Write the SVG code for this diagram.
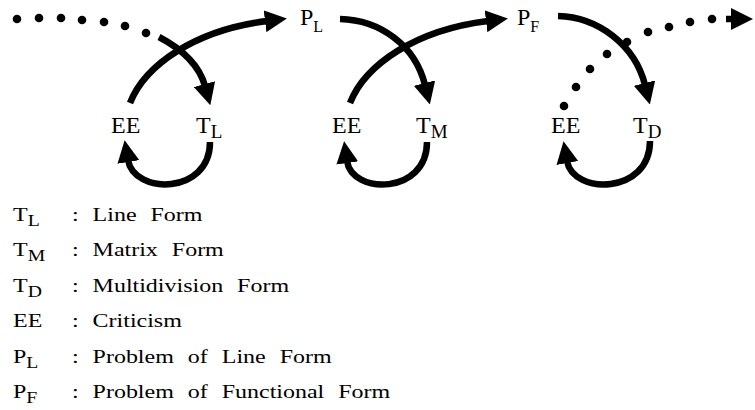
<svg xmlns="http://www.w3.org/2000/svg" width="755" height="410" viewBox="0 0 755 410">
<defs>
<style>
.t{font-family:"Liberation Serif","Times New Roman",serif;font-size:24px;fill:#000}
.s{font-size:19px}
.sp{font-size:16px}
.lg{font-family:"Liberation Serif","Times New Roman",serif;font-size:19.5px;fill:#000;word-spacing:6.5px}
.ls{font-size:16px}
.ln{fill:none;stroke:#000;stroke-width:6.5;stroke-linecap:butt}
.dot{fill:#000}
</style>
<marker id="ah" markerUnits="userSpaceOnUse" markerWidth="22" markerHeight="22" viewBox="0 0 22 22" refX="2" refY="11" orient="auto">
<path d="M0,0 L22,11 L0,22 z" fill="#000"/>
</marker>
</defs>
<rect width="755" height="410" fill="#fff"/>
<g id="connectors">
<g id="dots-in">
<circle class="dot" cx="17" cy="19" r="4.3"/>
<circle class="dot" cx="39" cy="18" r="4.3"/>
<circle class="dot" cx="61" cy="18" r="4.3"/>
<circle class="dot" cx="82" cy="20" r="4.3"/>
<circle class="dot" cx="104" cy="22" r="4.3"/>
<circle class="dot" cx="125" cy="26" r="4.3"/>
<circle class="dot" cx="146" cy="33" r="4.3"/>
</g>
<path class="ln" d="M159,37 Q197,57 205,86" marker-end="url(#ah)"/>
<path class="ln" d="M130,103 C145,65 195,30 267,21" marker-end="url(#ah)"/>
<path class="ln" d="M210,142 C210,195 134,195 128,160" marker-end="url(#ah)"/>
<path class="ln" d="M340,19 C380,20 415,45 425,85" marker-end="url(#ah)"/>
<path class="ln" d="M350,103 C365,65 415,30 488,21" marker-end="url(#ah)"/>
<path class="ln" d="M427,142 C427,195 352,195 347,161" marker-end="url(#ah)"/>
<path class="ln" d="M558,16 C598,17 635,45 645,85" marker-end="url(#ah)"/>
<path class="ln" d="M650,141 C650,195 573,195 567,161" marker-end="url(#ah)"/>
<g id="dots-out">
<circle class="dot" cx="564" cy="106" r="4.3"/>
<circle class="dot" cx="576" cy="87" r="4.3"/>
<circle class="dot" cx="590" cy="69" r="4.3"/>
<circle class="dot" cx="607" cy="54" r="4.3"/>
<circle class="dot" cx="627" cy="42" r="4.3"/>
<circle class="dot" cx="648" cy="32" r="4.3"/>
<circle class="dot" cx="669" cy="27" r="4.3"/>
<circle class="dot" cx="690" cy="22" r="4.3"/>
<circle class="dot" cx="712" cy="19" r="4.3"/>
</g>
<path class="ln" d="M726,19 L733,19" marker-end="url(#ah)"/>
</g>
<g id="n-PL"><text class="t" x="300" y="25">P<tspan class="sp" dy="7">L</tspan></text></g>
<g id="n-PF"><text class="t" x="517" y="25">P<tspan class="sp" dy="7">F</tspan></text></g>
<g id="n-EE1"><text class="t" x="111" y="133">EE</text></g>
<g id="n-TL"><text class="t" x="196" y="133">T<tspan class="s" dy="4.5">L</tspan></text></g>
<g id="n-EE2"><text class="t" x="332" y="133">EE</text></g>
<g id="n-TM"><text class="t" x="416" y="133">T<tspan class="s" dy="4.5">M</tspan></text></g>
<g id="n-EE3"><text class="t" x="551" y="133">EE</text></g>
<g id="n-TD"><text class="t" x="633" y="133">T<tspan class="s" dy="4.5">D</tspan></text></g>
<g id="legend" transform="scale(1.23,1)">
<text class="lg" x="10.6" y="221">T<tspan class="ls" dy="5">L</tspan></text><text class="lg" x="58.5" y="221">: Line Form</text>
<text class="lg" x="10.6" y="256.5">T<tspan class="ls" dy="5">M</tspan></text><text class="lg" x="58.5" y="256.5">: Matrix Form</text>
<text class="lg" x="10.6" y="292">T<tspan class="ls" dy="5">D</tspan></text><text class="lg" x="58.5" y="292">: Multidivision Form</text>
<text class="lg" x="10.6" y="327.5">EE</text><text class="lg" x="58.5" y="327.5">: Criticism</text>
<text class="lg" x="10.6" y="363">P<tspan class="ls" dy="5">L</tspan></text><text class="lg" x="58.5" y="363">: Problem of Line Form</text>
<text class="lg" x="10.6" y="398.5">P<tspan class="ls" dy="5">F</tspan></text><text class="lg" x="58.5" y="398.5">: Problem of Functional Form</text>
</g>
</svg>
